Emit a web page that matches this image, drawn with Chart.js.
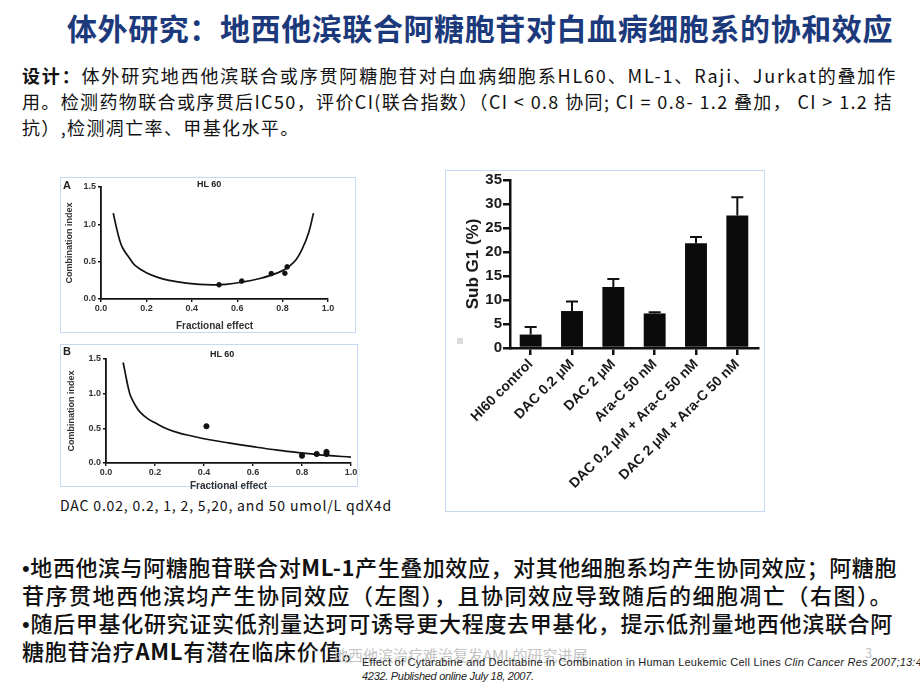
<!DOCTYPE html>
<html>
<head>
<meta charset="utf-8">
<script src="https://cdn.jsdelivr.net/npm/chart.js@4"></script>
<style>
body{margin:0;width:920px;height:690px;overflow:hidden;background:#fff;position:relative;font-family:"Noto Sans CJK SC","Liberation Sans",sans-serif;color:#111}
.line{position:absolute;white-space:nowrap;line-height:1}
.frame{position:absolute;border:1.5px solid #c3daf2;box-sizing:border-box}
.lbl{position:absolute;white-space:nowrap;line-height:1;font-family:"Liberation Sans",sans-serif;font-weight:bold;color:#222}
.dot{font-family:"Liberation Sans",sans-serif}
canvas{position:absolute}
</style>
</head>
<body>
<div class="line" id="title" data-w="826" style="left:67px;top:12px;font-size:30px;font-weight:bold;color:#1c3a7b">体外研究：地西他滨联合阿糖胞苷对白血病细胞系的协和效应</div>

<div class="line" id="d1" data-w="875" style="left:22px;top:66px;font-size:18px"><b>设计：</b>体外研究地西他滨联合或序贯阿糖胞苷对白血病细胞系HL60、ML-1、Raji、Jurkat的叠加作</div>
<div class="line" id="d2" data-w="871" style="left:22px;top:92px;font-size:18px">用。检测药物联合或序贯后IC50，评价CI(联合指数）（CI &lt; 0.8 协同; CI = 0.8- 1.2 叠加， CI &gt; 1.2 拮</div>
<div class="line" id="d3" data-same="d2" style="left:22px;top:118px;font-size:18px">抗）,检测凋亡率、甲基化水平。</div>

<div class="frame" style="left:60px;top:177px;width:296px;height:156px"></div>
<canvas id="chartA" width="295" height="155" style="left:60px;top:177px"></canvas>
<div class="lbl" style="left:63px;top:180px;font-size:11px">A</div>
<div class="lbl" style="left:197px;top:180px;font-size:9px">HL 60</div>

<div class="frame" style="left:60px;top:344px;width:298px;height:143px"></div>
<canvas id="chartB" width="298" height="148" style="left:60px;top:344px"></canvas>
<div class="lbl" style="left:63px;top:346px;font-size:11px">B</div>
<div class="lbl" style="left:210px;top:350px;font-size:9px">HL 60</div>

<div class="line" id="cap" data-w="332" style="left:60px;top:498px;font-size:14px">DAC 0.02, 0.2, 1, 2, 5,20, and 50 umol/L qdX4d</div>

<div class="frame" style="left:445px;top:170px;width:320px;height:342px"></div>
<canvas id="chartC" width="320" height="342" style="left:445px;top:170px"></canvas>
<div style="position:absolute;left:457px;top:338px;width:6px;height:6px;background:#dcdcdc"></div>

<div class="line" id="b1" data-w="875" style="left:22px;top:555px;font-size:22px;font-weight:500"><span class="dot">•</span>地西他滨与阿糖胞苷联合对<b>ML-1</b>产生叠加效应，对其他细胞系均产生协同效应；阿糖胞</div>
<div class="line" id="b2" data-w="871" style="left:22px;top:583px;font-size:22px;font-weight:500">苷序贯地西他滨均产生协同效应（左图），且协同效应导致随后的细胞凋亡（右图）。</div>
<div class="line" id="b3" data-w="871" style="left:22px;top:611px;font-size:22px;font-weight:500"><span class="dot">•</span>随后甲基化研究证实低剂量达珂可诱导更大程度去甲基化，提示低剂量地西他滨联合阿</div>
<div class="line" id="b4" data-same="b3" style="left:22px;top:639px;font-size:22px;font-weight:500">糖胞苷治疗<b>AML</b>有潜在临床价值。</div>

<div class="line" style="left:333px;top:647px;font-size:15px;color:#c4c4c4">地西他滨治疗难治复发AML的研究进展</div>
<div class="line" style="left:865px;top:646px;font-size:13px;color:#c4c4c4">3</div>
<div class="line" id="c1" data-w="560" style="left:362px;top:657px;font-size:11px;color:#222;font-family:'Liberation Sans',sans-serif">Effect of Cytarabine and Decitabine in Combination in Human Leukemic Cell Lines <i>Clin Cancer Res 2007;13:4</i></div>
<div class="line" style="left:362px;top:671px;font-size:11px;color:#222;font-family:'Liberation Sans',sans-serif;font-style:italic;letter-spacing:-0.3px">4232. Published online July 18, 2007.</div>

<script>
// panel A: combination index vs fractional effect (HL 60, simultaneous)
const faA = [0.52, 0.62, 0.75, 0.81, 0.82];
const ciA = [0.19, 0.24, 0.34, 0.345, 0.43];
const curveFaA = [0.054, 0.067, 0.082, 0.096, 0.125, 0.15, 0.2, 0.25, 0.3, 0.385, 0.49, 0.55, 0.62, 0.7, 0.75, 0.8, 0.83, 0.86, 0.885, 0.914, 0.936];
const curveCiA = [1.15, 0.97, 0.79, 0.68, 0.55, 0.45, 0.35, 0.29, 0.25, 0.21, 0.19, 0.195, 0.225, 0.275, 0.32, 0.38, 0.44, 0.53, 0.66, 0.88, 1.15];

// panel B: sequential
const faB = [0.41, 0.80, 0.86, 0.90, 0.90];
const ciB = [0.53, 0.105, 0.13, 0.16, 0.13];
const curveFaB = [0.07, 0.08, 0.09, 0.10, 0.12, 0.14, 0.17, 0.2, 0.25, 0.3, 0.35, 0.4, 0.5, 0.6, 0.7, 0.8, 0.9, 1.0];
const curveCiB = [1.45, 1.27, 1.10, 0.97, 0.83, 0.73, 0.64, 0.58, 0.49, 0.43, 0.39, 0.35, 0.29, 0.235, 0.185, 0.145, 0.11, 0.085];

const fracTicks = [0, 0.2, 0.4, 0.6, 0.8, 1.0];
const ciTicks = [0, 0.5, 1.0, 1.5];

// right panel: sub G1 apoptosis
const groups = ["HI60 control", "DAC 0.2 μM", "DAC 2 μM", "Ara-C 50 nM", "DAC 0.2 μM + Ara-C 50 nM", "DAC 2 μM + Ara-C 50 nM"];
const subG1 = [2.8, 7.7, 12.7, 7.2, 21.8, 27.6];
const subG1Err = [1.6, 2.0, 1.7, 0.25, 1.3, 3.8];
const subG1Ticks = [0, 5, 10, 15, 20, 25, 30, 35];

// stretch text lines to the widths in the slide
function fitLine(el, w) {
  const n = el.textContent.length;
  el.style.letterSpacing = "0px";
  const extra = (w - el.getBoundingClientRect().width) / n;
  el.style.letterSpacing = extra + "px";
}
document.querySelectorAll("[data-w]").forEach((el) => fitLine(el, +el.dataset.w));
document.querySelectorAll("[data-same]").forEach((el) => {
  el.style.letterSpacing = document.getElementById(el.dataset.same).style.letterSpacing;
});

const axisFont = { family: "Liberation Sans", weight: "bold" };

function ciChart(id, fa, ci, cFa, cCi, box) {
  return new Chart(document.getElementById(id), {
    type: "scatter",
    data: {
      datasets: [
        {
          data: fa.map((x, i) => ({ x: x, y: ci[i] })),
          backgroundColor: "#111",
          borderColor: "#111",
          pointRadius: box.dot,
        },
        {
          data: cFa.map((x, i) => ({ x: x, y: cCi[i] })),
          showLine: true,
          borderColor: "#111",
          borderWidth: 1.7,
          pointRadius: 0,
          tension: 0.4,
        },
      ],
    },
    options: {
      responsive: false,
      animation: false,
      events: [],
      layout: { padding: { top: box.top, right: box.right, left: 0, bottom: 0 } },
      plugins: { legend: { display: false }, tooltip: { enabled: false } },
      scales: {
        x: {
          type: "linear",
          min: 0,
          max: 1,
          afterBuildTicks: (s) => { s.ticks = fracTicks.map((v) => ({ value: v })); },
          afterFit: (s) => { s.height = box.xh; s.paddingLeft = 0; s.paddingRight = 0; },
          grid: { drawOnChartArea: false, tickLength: 3, color: "#111", lineWidth: 1.4 },
          border: { color: "#111", width: 1.8 },
          ticks: { font: Object.assign({ size: 9 }, axisFont), color: "#333", padding: 1, callback: (v) => v.toFixed(1) },
          title: { display: true, text: "Fractional effect", font: Object.assign({ size: 10 }, axisFont), color: "#333", padding: { top: 2, bottom: 0 } },
        },
        y: {
          min: 0,
          max: 1.5,
          afterBuildTicks: (s) => { s.ticks = ciTicks.map((v) => ({ value: v })); },
          afterFit: (s) => { s.width = box.yw; s.paddingTop = 0; s.paddingBottom = 0; },
          grid: { drawOnChartArea: false, tickLength: 3, color: "#111", lineWidth: 1.4 },
          border: { color: "#111", width: 1.8 },
          ticks: { font: Object.assign({ size: 9 }, axisFont), color: "#333", padding: 2, callback: (v) => v.toFixed(1) },
          title: { display: true, text: "Combination index", font: Object.assign({ size: 9 }, axisFont), color: "#333", padding: { top: box.tpad, bottom: 0 } },
        },
      },
    },
  });
}

ciChart("chartA", faA, ciA, curveFaA, curveCiA, { top: 10, right: 27, xh: 33, yw: 41, dot: 2.3, tpad: 4 });
ciChart("chartB", faB, ciB, curveFaB, curveCiB, { top: 15, right: 7, xh: 29, yw: 46, dot: 2.6, tpad: 6 });

const errorBars = {
  id: "errorBars",
  afterDatasetsDraw(chart) {
    const ctx = chart.ctx;
    const y = chart.scales.y;
    chart.getDatasetMeta(0).data.forEach((bar, i) => {
      const top = y.getPixelForValue(subG1[i] + subG1Err[i]);
      ctx.save();
      ctx.strokeStyle = "#111";
      ctx.lineWidth = 2;
      ctx.beginPath();
      ctx.moveTo(bar.x, bar.y);
      ctx.lineTo(bar.x, top);
      ctx.moveTo(bar.x - 6, top);
      ctx.lineTo(bar.x + 6, top);
      ctx.stroke();
      ctx.restore();
    });
  },
};

new Chart(document.getElementById("chartC"), {
  type: "bar",
  data: {
    labels: groups,
    datasets: [{ data: subG1, backgroundColor: "#0b0b0b", barPercentage: 0.53, categoryPercentage: 1 }],
  },
  options: {
    responsive: false,
    animation: false,
    events: [],
    layout: { padding: { top: 10, right: 7, left: 0, bottom: 0 } },
    plugins: { legend: { display: false }, tooltip: { enabled: false } },
    scales: {
      x: {
        afterFit: (s) => { s.height = 164; s.paddingLeft = 0; s.paddingRight = 0; },
        grid: { offset: false, drawOnChartArea: false, tickLength: 7, color: "#111", lineWidth: 2.5 },
        border: { color: "#111", width: 2.5 },
        ticks: { font: Object.assign({ size: 14 }, axisFont), color: "#1a1a1a", padding: 1, minRotation: 45, maxRotation: 45, autoSkip: false },
      },
      y: {
        min: 0,
        max: 35,
        afterBuildTicks: (s) => { s.ticks = subG1Ticks.map((v) => ({ value: v })); },
        afterFit: (s) => { s.width = 65; s.paddingTop = 0; s.paddingBottom = 0; },
        grid: { drawOnChartArea: false, tickLength: 7, color: "#111", lineWidth: 2.5 },
        border: { color: "#111", width: 2.5 },
        ticks: { font: Object.assign({ size: 15 }, axisFont), color: "#1a1a1a", padding: 1 },
        title: { display: true, text: "Sub G1 (%)", font: Object.assign({ size: 17 }, axisFont), color: "#1a1a1a", padding: { top: 18, bottom: 0 } },
      },
    },
  },
  plugins: [errorBars],
});
</script>
</body>
</html>
